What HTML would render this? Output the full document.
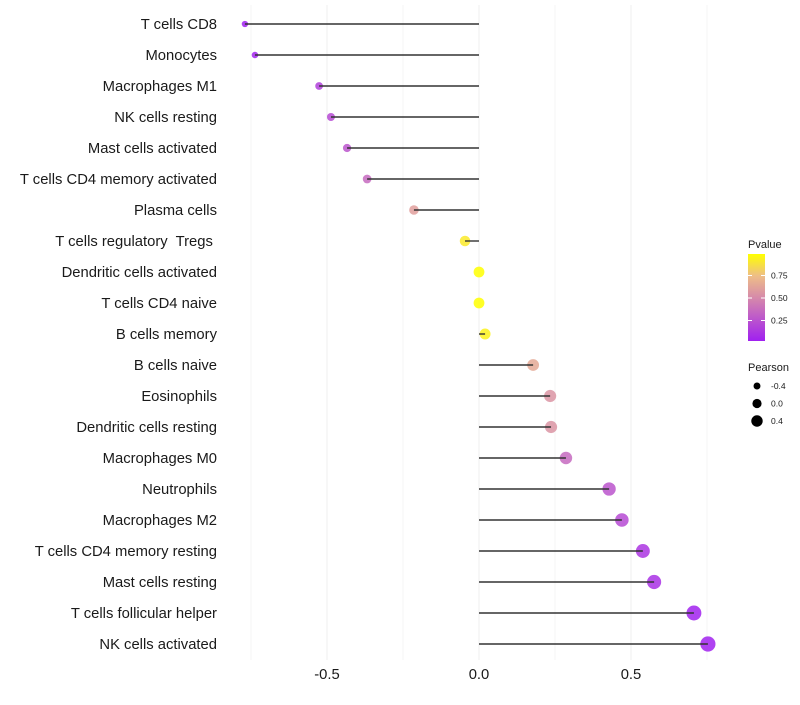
<!DOCTYPE html>
<html><head><meta charset="utf-8"><style>
body{margin:0;background:#fff;font-family:"Liberation Sans",sans-serif}
svg text{font-family:"Liberation Sans",sans-serif;white-space:pre}
</style></head><body>
<svg id="chart" width="800" height="700"></svg>
<script>
const categories=["T cells CD8","Monocytes","Macrophages M1","NK cells resting","Mast cells activated","T cells CD4 memory activated","Plasma cells","T cells regulatory  Tregs ","Dendritic cells activated","T cells CD4 naive","B cells memory","B cells naive","Eosinophils","Dendritic cells resting","Macrophages M0","Neutrophils","Macrophages M2","T cells CD4 memory resting","Mast cells resting","T cells follicular helper","NK cells activated"];
const pearson=[-0.77,-0.737,-0.526,-0.487,-0.434,-0.368,-0.214,-0.046,0.0,0.0,0.02,0.178,0.234,0.237,0.286,0.428,0.470,0.539,0.576,0.707,0.753];
const pvalues=[0.0,0.02,0.15,0.2,0.25,0.35,0.6,0.92,1.0,1.0,0.95,0.65,0.55,0.55,0.35,0.25,0.2,0.1,0.08,0.01,0.01];
const xTicks=[-0.5,0.0,0.5];
const xTickLabels=["-0.5","0.0","0.5"];
const gridVals=[-0.75,-0.5,-0.25,0,0.25,0.5,0.75];
const pTicks=[0.25,0.5,0.75];
const sizeLegend=[-0.4,0.0,0.4];

const NS="http://www.w3.org/2000/svg";
const svg=document.getElementById('chart');
function el(t,a,p){const e=document.createElementNS(NS,t);for(const k in a)e.setAttribute(k,a[k]);(p||svg).appendChild(e);return e;}
const x=v=>479+v*304;
const y=i=>24+i*31;
const stops=[[0,[160,32,240]],[0.5,[214,138,170]],[0.75,[238,190,135]],[1,[255,255,0]]];
function col(p){for(let i=1;i<stops.length;i++){if(p<=stops[i][0]){const a=stops[i-1],b=stops[i];const t=(p-a[0])/(b[0]-a[0]);const c=a[1].map((v,j)=>Math.round(v+(b[1][j]-v)*t));return `rgb(${c})`;}}return 'rgb(255,255,0)';}
const r=v=>5.4+2.9*v;

gridVals.forEach(g=>{const l=el('line',{x1:x(g),x2:x(g),y1:5,y2:660,stroke:'#f0f0f0','stroke-width':xTicks.includes(g)?1.1:0.6});

});

categories.forEach((c,i)=>{
 const t=el('text',{x:217,y:y(i)+5,'text-anchor':'end','font-size':14.8,fill:'#1a1a1a'});t.textContent=c;
 
 
 const d=el('circle',{cx:x(pearson[i]),cy:y(i),r:r(pearson[i]),fill:col(pvalues[i]),opacity:0.85});
 
 
 const s=el('line',{x1:x(0),x2:x(pearson[i]),y1:y(i),y2:y(i),stroke:'#333','stroke-width':1.4});
 
 
});
xTicks.forEach((v,i)=>{const t=el('text',{x:x(v),y:679,'text-anchor':'middle','font-size':14.8,fill:'#1a1a1a'});t.textContent=xTickLabels[i];

});

// legend
const lt=el('text',{x:748,y:248,'font-size':11,fill:'#1a1a1a'});lt.textContent='Pvalue';


const defs=el('defs',{});const g=el('linearGradient',{id:'pg',x1:0,y1:1,x2:0,y2:0},defs);
stops.forEach(s=>el('stop',{offset:s[0],'stop-color':`rgb(${s[1]})`},g));
const bar=el('rect',{x:748,y:254,width:17,height:87,fill:'url(#pg)'});


pTicks.forEach(p=>{const yy=343-p*90;
 el('line',{x1:748,x2:752,y1:yy,y2:yy,stroke:'#fff'});el('line',{x1:761,x2:765,y1:yy,y2:yy,stroke:'#fff'});
 const t=el('text',{x:771,y:yy+3,'font-size':8.5,fill:'#1a1a1a'});t.textContent=p.toFixed(2);
 
 });
const st=el('text',{x:748,y:371,'font-size':11,fill:'#1a1a1a'});st.textContent='Pearson';


sizeLegend.forEach((v,i)=>{const yy=386+i*17.5;
 const c=el('circle',{cx:757,cy:yy,r:4.6+2.8*v,fill:'#000'});
 
 
 const t=el('text',{x:771,y:yy+3,'font-size':8.5,fill:'#1a1a1a'});t.textContent=v.toFixed(1);
 
 });
</script>
</body></html>
